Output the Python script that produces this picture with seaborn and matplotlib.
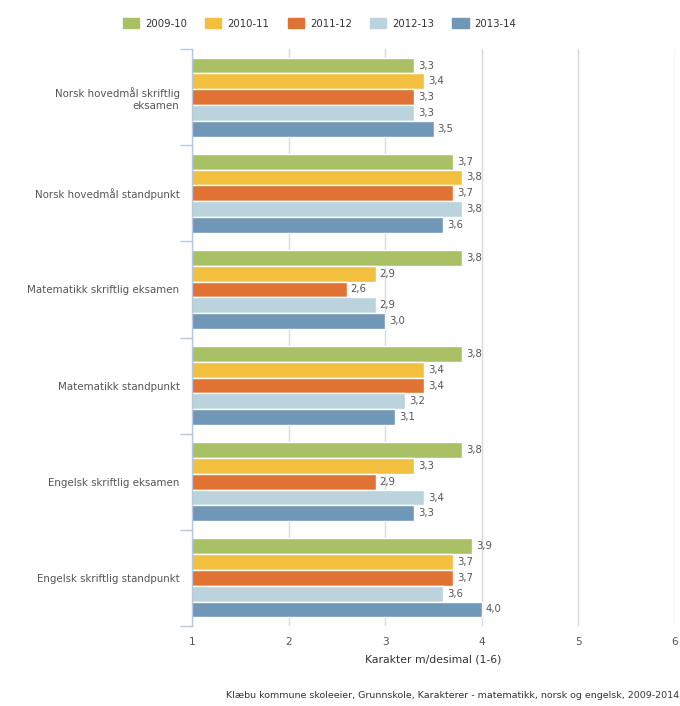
import pandas as pd
import numpy as np
import matplotlib
matplotlib.use("Agg")
import matplotlib.pyplot as plt
import seaborn as sns

# ---------------- data ----------------
categories = [
    "Norsk hovedmål skriftlig\neksamen",
    "Norsk hovedmål standpunkt",
    "Matematikk skriftlig eksamen",
    "Matematikk standpunkt",
    "Engelsk skriftlig eksamen",
    "Engelsk skriftlig standpunkt",
]
years = ["2009-10", "2010-11", "2011-12", "2012-13", "2013-14"]
v_2009 = [3.3, 3.7, 3.8, 3.8, 3.8, 3.9]
v_2010 = [3.4, 3.8, 2.9, 3.4, 3.3, 3.7]
v_2011 = [3.3, 3.7, 2.6, 3.4, 2.9, 3.7]
v_2012 = [3.3, 3.8, 2.9, 3.2, 3.4, 3.6]
v_2013 = [3.5, 3.6, 3.0, 3.1, 3.3, 4.0]
x_ticks = [1, 2, 3, 4, 5, 6]

colors = ["#A9C065", "#F2BF3F", "#E07233", "#BAD3DD", "#6E97B8"]

rows = []
for yr, vals in zip(years, [v_2009, v_2010, v_2011, v_2012, v_2013]):
    for cat, v in zip(categories, vals):
        rows.append({"fag": cat, "aar": yr, "verdi": v})
df = pd.DataFrame(rows)

# ---------------- plot ----------------
sns.set_style("white")
plt.rcParams['font.family'] = ['DejaVu Sans']
txt = "#555555"

fig = plt.figure(figsize=(6.8, 7.06), dpi=100)
ax = fig.add_axes([0.2824, 0.1133, 0.7102, 0.8173])

sns.barplot(data=df, y="fag", x="verdi", hue="aar", order=categories,
            hue_order=years, palette=colors, orient="h", width=0.82,
            edgecolor="white", linewidth=1, saturation=1, legend=False,
            errorbar=None, ax=ax)

for cont in ax.containers:
    labels = [f"{b.get_width():.1f}".replace(".", ",") for b in cont]
    ax.bar_label(cont, labels=labels, padding=3, fontsize=7.3, color=txt)

ax.set_xlim(1, 6)
ax.set_ylim(5.5, -0.5)
ax.set_xticks(x_ticks)
ax.set_xticklabels([str(t) for t in x_ticks])
ax.grid(axis="x", color="#d9d9d9", linewidth=1)
ax.set_axisbelow(True)

for s in ["top", "right", "bottom"]:
    ax.spines[s].set_visible(False)
ax.spines["left"].set_color("#b8c8dc")
ax.spines["left"].set_linewidth(1)

ax.set_yticks(np.arange(-0.5, 6.0, 1.0), minor=True)
ax.tick_params(axis="y", which="minor", left=True, length=9, color="#b8c8dc", width=1)
ax.tick_params(axis="y", which="major", length=0, pad=9, labelsize=7.4, labelcolor=txt)
ax.tick_params(axis="x", length=0, pad=8, labelsize=7.6, labelcolor=txt)

ax.set_ylabel("")
ax.set_xlabel("Karakter m/desimal (1-6)", fontsize=7.8, color="#333333", labelpad=5)

handles = [plt.Rectangle((0, 0), 1, 1, color=c) for c in colors]
fig.legend(handles, years, loc="center", bbox_to_anchor=(0.47, 0.967), ncol=5,
           frameon=False, fontsize=7.3, handlelength=1.6, handleheight=1.2,
           handletextpad=0.6, columnspacing=1.8, labelcolor="#333333")

fig.text(0.998, 0.008, "Klæbu kommune skoleeier, Grunnskole, Karakterer - matematikk, norsk og engelsk, 2009-2014",
         ha="right", va="bottom", fontsize=6.8, color="#333333")

fig.savefig("out.png", dpi=100)
